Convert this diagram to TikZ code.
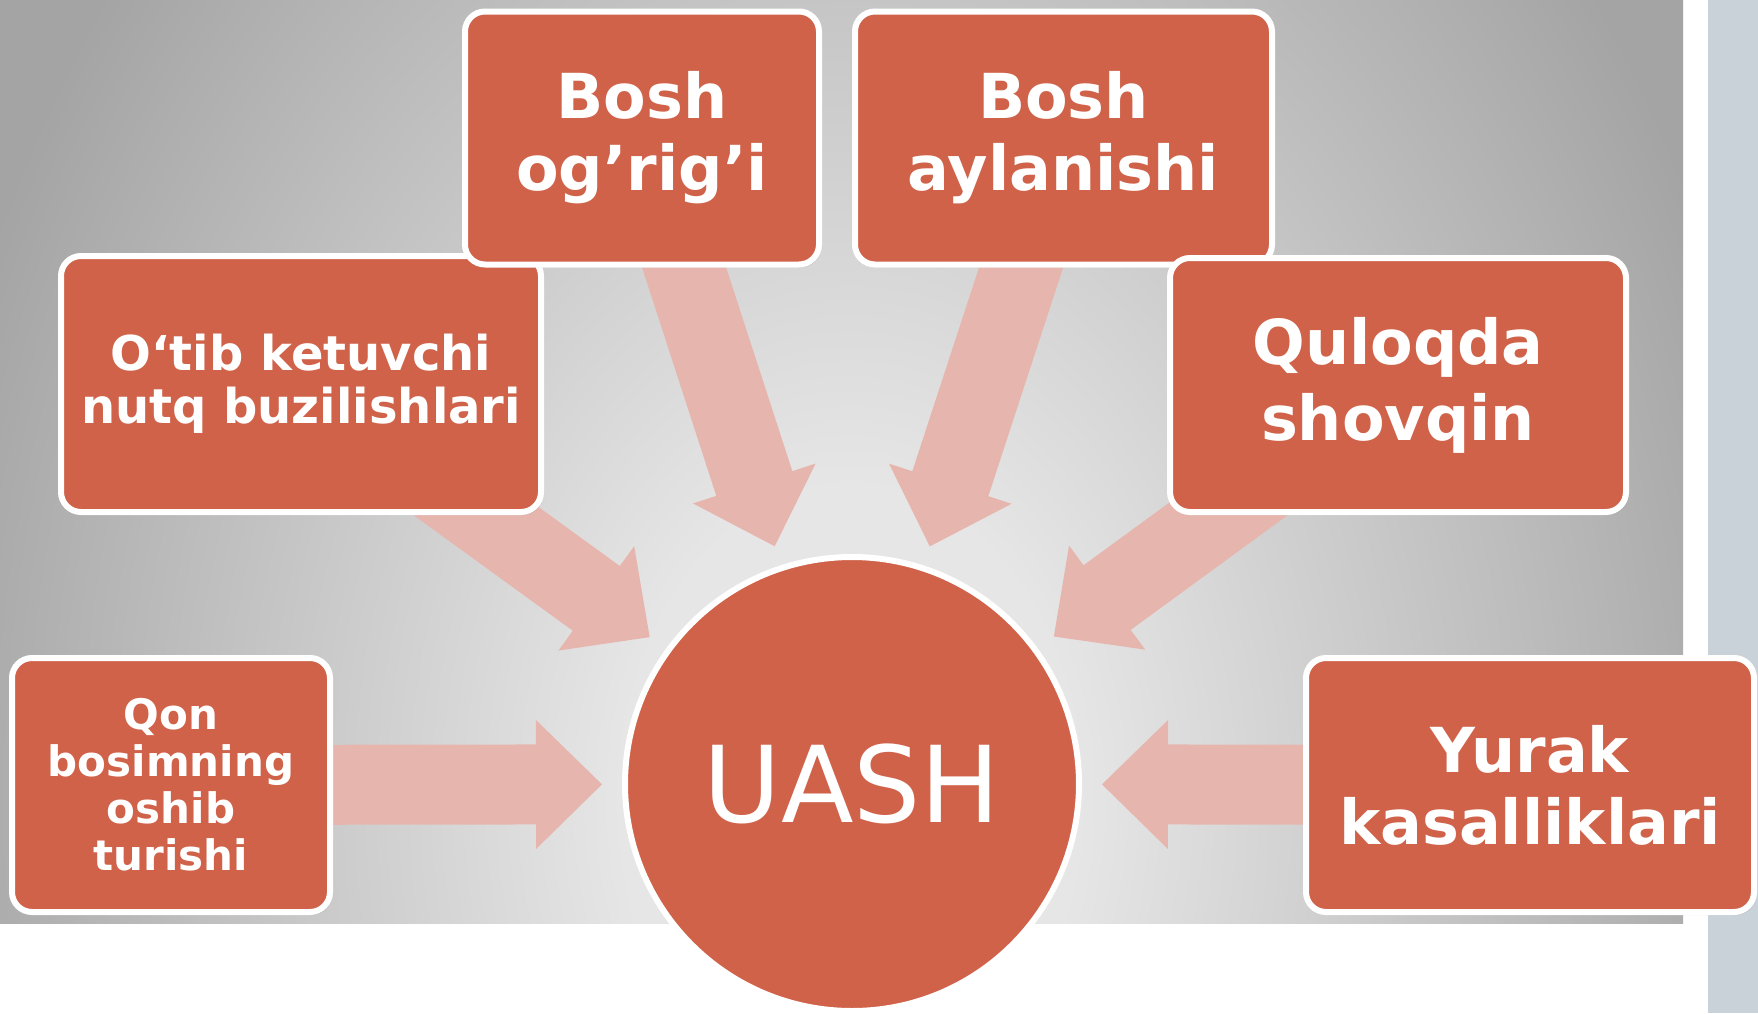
\documentclass[tikz,border=0pt]{standalone}
\usepackage{fontspec}
\setmainfont{DejaVu Sans}
\usetikzlibrary{calc,shadows}
\definecolor{boxred}{HTML}{D0624A}
\definecolor{arrpink}{HTML}{E6B6AE}
\definecolor{sidebar}{HTML}{C8D2D8}
\definecolor{panelin}{HTML}{E6E6E6}
\definecolor{panelout}{HTML}{A4A4A4}
\pgfdeclareradialshading{panelshade}{\pgfpoint{0bp}{0bp}}{color(0bp)=(panelin); color(6bp)=(panelin); color(25bp)=(panelout); color(50bp)=(panelout)}
\pgfdeclarelayer{bg}
\pgfdeclarelayer{arr}
\pgfsetlayers{bg,arr,main}
\begin{document}
\begin{tikzpicture}[x=0.5pt,y=-0.5pt,
  box/.style={draw=white, line width=3pt, fill=boxred, rounded corners=10pt,
    text=white, align=center, inner sep=0pt,
    drop shadow={opacity=0.22, shadow xshift=1pt, shadow yshift=-1.5pt}},
  bigtxt/.style={font=\fontsize{31}{36}\selectfont\bfseries},
  bigtxtwide/.style={font=\fontsize{31}{38}\selectfont\bfseries},
  midtxt/.style={font=\fontsize{24}{26.5}\selectfont\bfseries},
  smalltxt/.style={font=\fontsize{21}{23.5}\selectfont\bfseries},
  arrowto/.style={to path={
    ($(\tikztostart.center)!20pt!90:(\tikztotarget.center)$)
    -- ($(\tikztotarget.center)!158pt!(\tikztostart.center)!20pt!90:(\tikztotarget.center)$)
    -- ($(\tikztotarget.center)!158pt!(\tikztostart.center)!32.25pt!90:(\tikztotarget.center)$)
    -- ($(\tikztotarget.center)!125pt!(\tikztostart.center)$)
    -- ($(\tikztotarget.center)!158pt!(\tikztostart.center)!32.25pt!-90:(\tikztotarget.center)$)
    -- ($(\tikztotarget.center)!158pt!(\tikztostart.center)!20pt!-90:(\tikztotarget.center)$)
    -- ($(\tikztostart.center)!20pt!-90:(\tikztotarget.center)$)
    -- cycle}},
  pinkarrow/.style={fill=arrpink, draw=none}
]
\useasboundingbox (0,0) rectangle (1758,1013);

% background
\begin{pgfonlayer}{bg}
  \fill[white] (0,0) rectangle (1758,1013);
  \fill[sidebar] (1708,0) rectangle (1758,1013);
  \begin{scope}
    \clip (0,0) rectangle (1683,923);
    \fill[panelout] (0,0) rectangle (1683,923);
    \shade[shading=panelshade] (-100,-500) rectangle (1800,2100);
  \end{scope}
\end{pgfonlayer}

% nodes
\node[box, midtxt, minimum width=240pt, minimum height=128pt] (otib) at (301,384)
  {O‘tib ketuvchi\\nutq buzilishlari};
\node[box, bigtxt, minimum width=177pt, minimum height=126.5pt] (ogrig) at (642,138)
  {Bosh\\og’rig’i};
\node[box, bigtxt, minimum width=208.5pt, minimum height=126.5pt] (aylan) at (1063.5,138)
  {Bosh\\aylanishi};
\node[box, bigtxtwide, minimum width=228pt, minimum height=127pt] (quloq) at (1398,385)
  {Quloqda\\shovqin};
\node[box, smalltxt, minimum width=159pt, minimum height=127pt] (qon) at (171,785)
  {Qon\\bosimning\\oshib\\turishi};
\node[box, bigtxt, minimum width=224pt, minimum height=127pt] (yurak) at (1530,785)
  {Yurak\\kasalliklari};
\node[circle, draw=white, line width=3pt, fill=boxred, minimum size=227pt, inner sep=0pt,
  text=white, font=\fontsize{53}{60}\selectfont] (uash) at (852,784) {UASH};

% connectors
\begin{pgfonlayer}{arr}
  \path[pinkarrow] (otib) to[arrowto] (uash);
  \path[pinkarrow] (ogrig) to[arrowto] (uash);
  \path[pinkarrow] (aylan) to[arrowto] (uash);
  \path[pinkarrow] (quloq) to[arrowto] (uash);
  \path[pinkarrow] (qon) to[arrowto] (uash);
  \path[pinkarrow] (yurak) to[arrowto] (uash);
\end{pgfonlayer}
\end{tikzpicture}
\end{document}
